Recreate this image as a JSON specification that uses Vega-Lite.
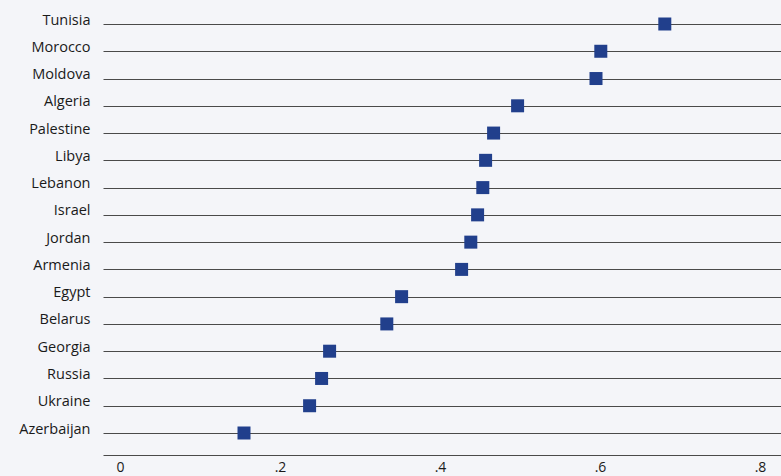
{
  "$schema": "https://vega.github.io/schema/vega-lite/v6.json",
  "autosize": {"type": "none"},
  "width": 678,
  "height": 455,
  "padding": {"left": 103, "top": 0, "right": 0, "bottom": 21},
  "background": "#f4f5f9",
  "config": {"view": {"stroke": null}, "font": "Open Sans"},
  "data": {"values": [
    {"country": "Tunisia", "value": 0.681},
    {"country": "Morocco", "value": 0.601},
    {"country": "Moldova", "value": 0.595},
    {"country": "Algeria", "value": 0.497},
    {"country": "Palestine", "value": 0.467},
    {"country": "Libya", "value": 0.457},
    {"country": "Lebanon", "value": 0.4535},
    {"country": "Israel", "value": 0.447},
    {"country": "Jordan", "value": 0.4385},
    {"country": "Armenia", "value": 0.427},
    {"country": "Egypt", "value": 0.352},
    {"country": "Belarus", "value": 0.3335},
    {"country": "Georgia", "value": 0.262},
    {"country": "Russia", "value": 0.252},
    {"country": "Ukraine", "value": 0.237},
    {"country": "Azerbaijan", "value": 0.155}
  ]},
  "mark": {"type": "square", "size": 169, "color": "#213f8c", "opacity": 1},
  "encoding": {
    "y": {
      "field": "country", "type": "nominal", "sort": null,
      "scale": {"type": "point", "range": [24, 433], "padding": 0},
      "axis": {
        "title": null, "domain": false, "ticks": false,
        "grid": true, "gridColor": "#4a4a4a", "gridWidth": 1, "gridOpacity": 1,
        "labelPadding": 13, "labelFontSize": 14.5, "labelColor": "#1a1a1a",
        "labelOffset": -4
      }
    },
    "x": {
      "field": "value", "type": "quantitative",
      "scale": {"domain": [-0.02125, 0.82625], "nice": false, "zero": false},
      "axis": {
        "title": null, "values": [0, 0.2, 0.4, 0.6, 0.8],
        "labelExpr": "datum.value == 0 ? '0' : substring(format(datum.value, '.1f'), 1)",
        "ticks": false, "grid": false, "domain": true,
        "domainColor": "#4a4a4a", "domainWidth": 1,
        "labelFontSize": 14, "labelColor": "#1a1a1a", "labelPadding": 5,
        "labelFlush": false
      }
    }
  }
}
